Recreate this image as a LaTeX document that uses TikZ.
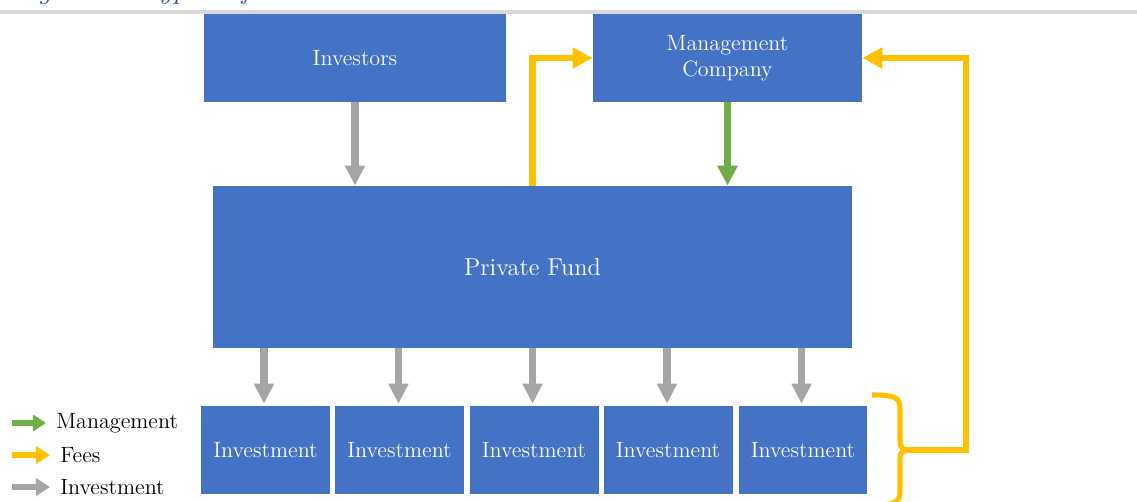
\documentclass[tikz,border=0pt]{standalone}
\usetikzlibrary{arrows.meta}
\definecolor{boxblue}{HTML}{4472C4}
\definecolor{invgray}{HTML}{A5A5A5}
\definecolor{feeyellow}{HTML}{FFC000}
\definecolor{mgmtgreen}{HTML}{70AD47}
\definecolor{rulegray}{HTML}{D9D9D9}
\definecolor{capblue}{HTML}{2F5496}
\tikzset{
  box/.style={rectangle, fill=boxblue, text=white, inner sep=0pt, align=center, font=\fontsize{12.6}{15}\selectfont},
  invarrow/.style={draw=invgray, line width=4pt, -{Triangle[length=11.4pt,width=10.8pt,fill=invgray]}},
  feearrow/.style={draw=feeyellow, line width=3.6pt, -{Triangle[length=11.4pt,width=11.4pt,fill=feeyellow]}},
  mgmtarrow/.style={draw=mgmtgreen, line width=3.8pt, -{Triangle[length=11.4pt,width=11pt,fill=mgmtgreen]}},
  legtext/.style={anchor=west, inner sep=0pt, text=black, font=\fontsize{12.6}{15}\selectfont},
}
\begin{document}
\begin{tikzpicture}[x=0.02cm,y=-0.02cm]
\useasboundingbox (0,0) rectangle (1137,501);
% caption (cut off at top) and rule
\node[anchor=base west, inner sep=0pt, text=capblue, font=\fontsize{17}{20}\selectfont\itshape] (cap) at (10,-2) {Figure 1: Typical fund structure};
\draw[rulegray, line width=2.3pt] (0,12) -- (1137,12);
% boxes
\node[box, minimum width=302*0.02cm, minimum height=88*0.02cm] (inv) at (355,58) {Investors};
\node[box, minimum width=269*0.02cm, minimum height=88*0.02cm] (mc) at (727.5,58) {Management\\Company};
\node[box, minimum width=639*0.02cm, minimum height=162*0.02cm, font=\fontsize{13.9}{17}\selectfont] (pf) at (532.5,267) {Private Fund};
\node[box, minimum width=129*0.02cm, minimum height=88*0.02cm] (i1) at (265.5,450) {Investment};
\node[box, minimum width=129*0.02cm, minimum height=88*0.02cm] (i2) at (399.5,450) {Investment};
\node[box, minimum width=129*0.02cm, minimum height=88*0.02cm] (i3) at (534,450) {Investment};
\node[box, minimum width=129*0.02cm, minimum height=88*0.02cm] (i4) at (668,450) {Investment};
\node[box, minimum width=128*0.02cm, minimum height=88*0.02cm] (i5) at (803,450) {Investment};
% investment arrows
\draw[invarrow] (inv.south) -- (inv.south |- pf.north);
\draw[invarrow] (pf.south -| 264,0) -- ([yshift=0.04cm]i1.north -| 264,0);
\draw[invarrow] (pf.south -| 398.5,0) -- ([yshift=0.04cm]i2.north -| 398.5,0);
\draw[invarrow] (pf.south -| 532.5,0) -- ([yshift=0.04cm]i3.north -| 532.5,0);
\draw[invarrow] (pf.south -| 667,0) -- ([yshift=0.04cm]i4.north -| 667,0);
\draw[invarrow] (pf.south -| 801.5,0) -- ([yshift=0.04cm]i5.north -| 801.5,0);
% management arrow
\draw[mgmtarrow] (mc.south) -- (mc.south |- pf.north);
% fee arrows
\draw[feearrow] (pf.north) -- (pf.north |- mc.west) -- (mc.west);
\coordinate (bt) at (903,450);
\coordinate (rc) at (966,450);
\draw[feearrow] (bt) -- (rc) |- (mc.east);
% brace
\draw[feeyellow, line width=2.9pt, line join=round]
  (872,395) .. controls (897,395) and (900,398) .. (900,410) -- (900,438)
  .. controls (900,447) .. (906,450)
  .. controls (900,453) .. (900,462) -- (900,490)
  .. controls (900,502) and (897,505) .. (872,505);
% legend
\coordinate (lg1) at (12,423);
\coordinate (lg1e) at (46,423);
\coordinate (lg2) at (12,455);
\coordinate (lg2e) at (50,455);
\coordinate (lg3) at (12,487);
\coordinate (lg3e) at (50,487);
\draw[draw=mgmtgreen, line width=3.9pt, -{Triangle[length=7.4pt,width=9.1pt,fill=mgmtgreen]}] (lg1) -- (lg1e);
\draw[draw=feeyellow, line width=3.9pt, -{Triangle[length=8pt,width=9.7pt,fill=feeyellow]}] (lg2) -- (lg2e);
\draw[draw=invgray, line width=3.9pt, -{Triangle[length=8pt,width=9.7pt,fill=invgray]}] (lg3) -- (lg3e);
\node[legtext] (l1) at (56,423) {Management};
\node[legtext] (l2) at (60,455) {Fees};
\node[legtext] (l3) at (60,487) {Investment};
\end{tikzpicture}
\end{document}
